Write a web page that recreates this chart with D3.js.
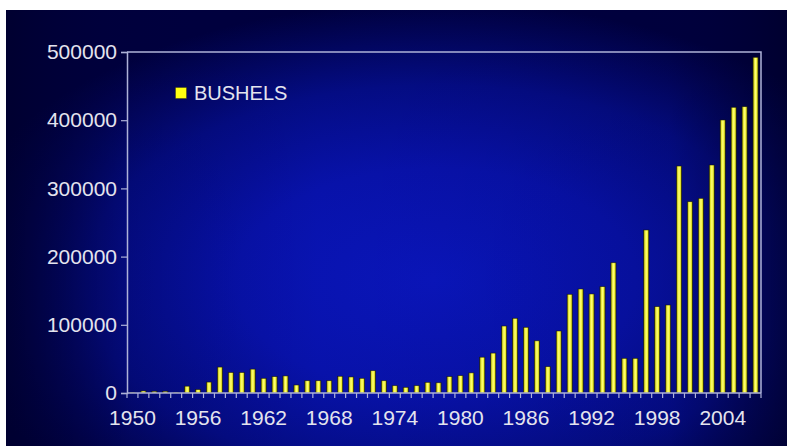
<!DOCTYPE html>
<html><head><meta charset="utf-8">
<script src="https://cdn.jsdelivr.net/npm/d3@7"></script>
<style>html,body{margin:0;padding:0;background:#fff;}svg{display:block;}</style>
</head><body>
<svg id="c" width="787" height="446"></svg>
<script>
const years = d3.range(1950, 2008).map(String);
const bushels = [1000,3000,2500,2500,1000,10000,5000,16000,38000,30000,
  30000,35000,21500,24000,25000,11700,18000,18000,18000,24500,
  23500,21500,32700,18000,10700,8300,10700,15600,15000,24000,
  25400,29500,52500,58500,98200,109500,96300,76500,38600,90900,
  144700,152500,145200,155900,191000,50800,50800,239000,126600,129000,
  332800,280500,285400,334300,400300,418900,419800,492200];
const yTicks = [0,100000,200000,300000,400000,500000];
const xLabels = ["1950","1956","1962","1968","1974","1980","1986","1992","1998","2004"];
const seriesName = "BUSHELS";

const svg = d3.select("#c");
const defs = svg.append("defs");
const bg = defs.append("radialGradient").attr("id","bg")
  .attr("cx",0.55).attr("cy",0.62).attr("r",0.64).attr("fx",0.55).attr("fy",0.62);
[[0,"#0a16bc"],[0.4,"#0812aa"],[0.7,"#040c84"],[1,"#00003c"]].forEach(s=>bg.append("stop").attr("offset",s[0]).attr("stop-color",s[1]));
const bg2 = defs.append("linearGradient").attr("id","bgh").attr("x1",0).attr("x2",1).attr("y1",0).attr("y2",0);
[[0,"#00002e",0.85],[0.16,"#000040",0.2],[0.4,"#000060",0],[0.85,"#000040",0.15],[1,"#00002a",0.7]].forEach(s=>bg2.append("stop").attr("offset",s[0]).attr("stop-color",s[1]).attr("stop-opacity",s[2]));
const bar = defs.append("linearGradient").attr("id","bar").attr("x1",0).attr("x2",1).attr("y1",0).attr("y2",0);
[[0,"#6a6a0a"],[0.25,"#e4e430"],[0.5,"#ffff78"],[0.75,"#f0f030"],[1,"#75750a"]].forEach(s=>bar.append("stop").attr("offset",s[0]).attr("stop-color",s[1]));

svg.append("rect").attr("x",6).attr("y",10).attr("width",781).attr("height",436).attr("fill","url(#bg)");
svg.append("rect").attr("x",6).attr("y",10).attr("width",781).attr("height",436).attr("fill","url(#bgh)");

const L=127, R=761, T=52, B=393;
const x = d3.scaleBand().domain(years).range([L,R]).padding(0);
const y = d3.scaleLinear().domain([0,500000]).range([B,T]);
const axisCol = "#aeb2d8", textCol = "#e4e4ee";
const font = "'Liberation Sans', Arial, sans-serif";

// plot border top/right
svg.append("path").attr("d",`M${L},${T}H${R}V${B}`).attr("fill","none").attr("stroke",axisCol).attr("stroke-width",1.5);

// bars
const bw = x.bandwidth()*0.48;
svg.append("g").selectAll("rect").data(bushels).join("rect")
  .attr("x",(d,i)=>x(years[i])+x.bandwidth()/2-bw/2)
  .attr("y",d=>y(d))
  .attr("width",bw)
  .attr("height",d=>B-y(d))
  .attr("fill","url(#bar)")
  .attr("stroke","rgba(20,20,0,0.7)").attr("stroke-width",0.7);

// y axis
const ya = svg.append("g").attr("transform",`translate(${L},0)`)
  .call(d3.axisLeft(y).tickValues(yTicks).tickFormat(d3.format("d")).tickSize(6).tickPadding(4));
ya.select(".domain").attr("stroke",axisCol).attr("stroke-width",1.5);
ya.selectAll(".tick line").attr("stroke",axisCol).attr("stroke-width",1.2);
ya.selectAll("text").attr("fill",textCol).style("font-family",font).style("font-size","21px");

// x axis
const xa = svg.append("g").attr("transform",`translate(0,${B})`)
  .call(d3.axisBottom(x).tickValues(xLabels).tickSize(0).tickPadding(0));
xa.select(".domain").remove();
xa.selectAll("text").attr("fill",textCol).style("font-family",font).style("font-size","21px")
  .attr("dy",null).attr("y",32);
svg.append("line").attr("x1",L).attr("x2",R).attr("y1",B).attr("y2",B).attr("stroke",axisCol).attr("stroke-width",1.5);
svg.append("g").selectAll("line").data(years.concat(["end"])).join("line")
  .attr("x1",d=>d==="end"?R:x(d)).attr("x2",d=>d==="end"?R:x(d))
  .attr("y1",B).attr("y2",B+5).attr("stroke",axisCol).attr("stroke-width",1.2);

// legend
svg.append("rect").attr("x",175.5).attr("y",87.5).attr("width",11).attr("height",11)
  .attr("fill","#ffff10").attr("stroke","rgba(40,40,0,0.6)").attr("stroke-width",0.6);
svg.append("text").attr("x",194).attr("y",100).text(seriesName)
  .attr("fill",textCol).style("font-family",font).style("font-size","20px");
</script>
</body></html>
